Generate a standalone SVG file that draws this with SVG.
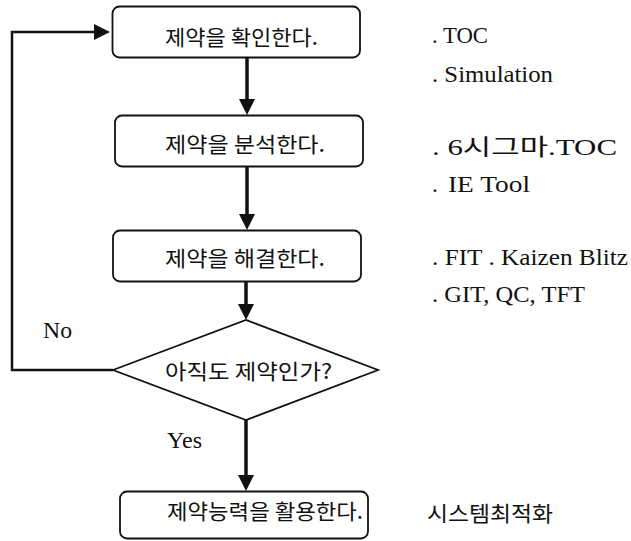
<svg xmlns="http://www.w3.org/2000/svg" width="631" height="541" viewBox="0 0 631 541">
<style>
.box{fill:#fff;stroke:#111;stroke-width:1.8}
.kr{font-family:"Noto Sans CJK KR","Noto Sans",sans-serif;font-size:21px;fill:#111}
.lat{font-family:"Liberation Serif","Noto Sans CJK KR",serif;font-size:23px;fill:#111}
.arr{fill:none;stroke:#111;stroke-width:3.5}
.fb{fill:none;stroke:#111;stroke-width:2.5}
</style>
<defs>
<marker id="ah" viewBox="0 0 16 16" refX="8" refY="8" markerWidth="16" markerHeight="16" markerUnits="userSpaceOnUse" orient="auto">
<path d="M0,0 L16,8 L0,16 z" fill="#111"/>
</marker>
</defs>
<g id="connectors">
<line class="arr" x1="247" y1="57" x2="247" y2="107" marker-end="url(#ah)"/>
<line class="arr" x1="247" y1="167" x2="247" y2="222" marker-end="url(#ah)"/>
<line class="arr" x1="246" y1="282" x2="246" y2="312" marker-end="url(#ah)"/>
<line class="arr" x1="246" y1="420" x2="246" y2="483" marker-end="url(#ah)"/>
<path class="fb" d="M113,370 H12 V32 H102" marker-end="url(#ah)"/>
<text class="lat" x="43" y="338" textLength="29" lengthAdjust="spacingAndGlyphs">No</text>
<text class="lat" x="167" y="448" textLength="35" lengthAdjust="spacingAndGlyphs">Yes</text>
</g>
<g id="n1">
<rect class="box" x="112.5" y="6.5" width="247.5" height="51" rx="7"/>
<text class="kr" x="165" y="45" textLength="153" lengthAdjust="spacingAndGlyphs">제약을 확인한다.</text>
</g>
<g id="n2">
<rect class="box" x="115" y="115.5" width="248" height="51" rx="7"/>
<text class="kr" x="165" y="152" textLength="160" lengthAdjust="spacingAndGlyphs">제약을 분석한다.</text>
</g>
<g id="n3">
<rect class="box" x="113" y="230.5" width="248" height="51" rx="7"/>
<text class="kr" x="165" y="266" textLength="160" lengthAdjust="spacingAndGlyphs">제약을 해결한다.</text>
</g>
<g id="n4">
<polygon class="box" points="113,370 246,320 378,370 246,420"/>
<text class="kr" x="165" y="379" textLength="167" lengthAdjust="spacingAndGlyphs">아직도 제약인가?</text>
</g>
<g id="n5">
<rect class="box" x="120" y="491.5" width="248" height="47" rx="7"/>
<text class="kr" x="167" y="519" textLength="196" lengthAdjust="spacingAndGlyphs">제약능력을 활용한다.</text>
</g>
<g id="notes">
<text class="lat" x="432" y="43" textLength="56" lengthAdjust="spacingAndGlyphs">. TOC</text>
<text class="lat" x="432" y="82" textLength="121" lengthAdjust="spacingAndGlyphs">. Simulation</text>
<text class="lat" x="432" y="155" textLength="185" lengthAdjust="spacingAndGlyphs">. 6시그마.TOC</text>
<text class="lat" x="432" y="192">.</text>
<text class="lat" x="448" y="192" textLength="82" lengthAdjust="spacingAndGlyphs">IE Tool</text>
<text class="lat" x="432" y="265" textLength="196" lengthAdjust="spacingAndGlyphs">. FIT . Kaizen Blitz</text>
<text class="lat" x="432" y="302" textLength="153" lengthAdjust="spacingAndGlyphs">. GIT, QC, TFT</text>
<text class="kr" x="427" y="521" textLength="126" lengthAdjust="spacingAndGlyphs">시스템최적화</text>
</g>
</svg>
